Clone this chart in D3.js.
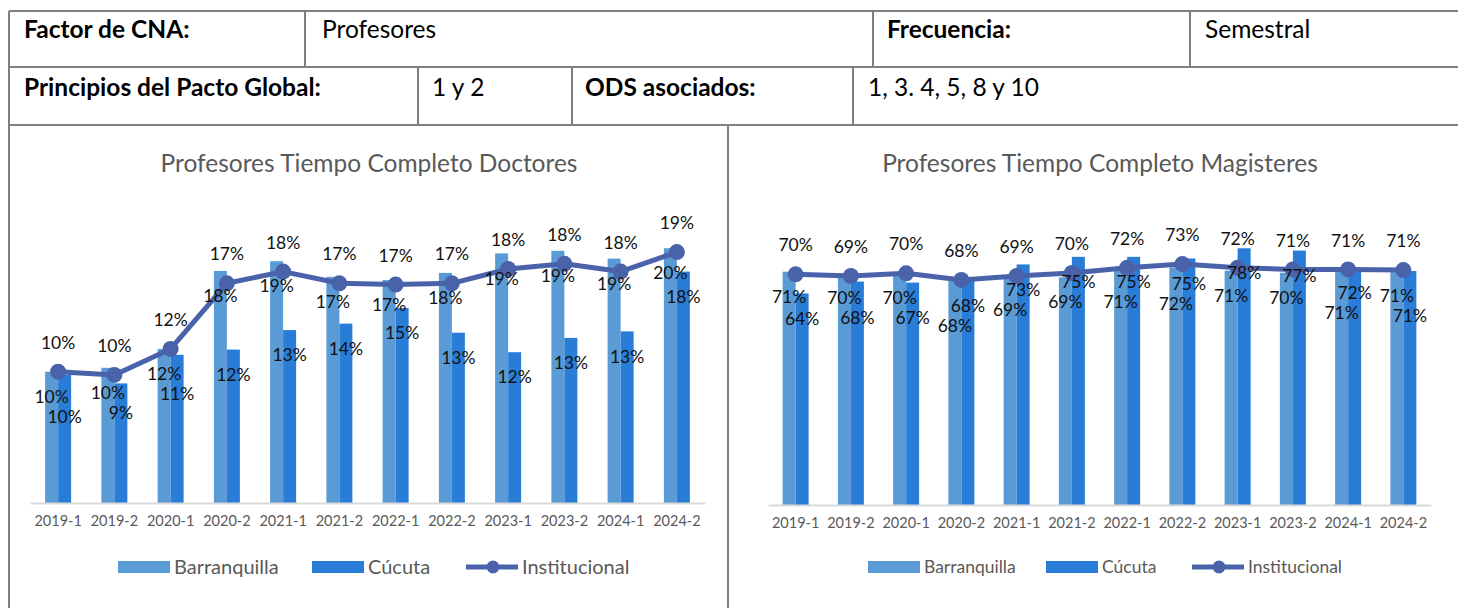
<!DOCTYPE html>
<html>
<head>
<meta charset="utf-8">
<script src="https://cdn.jsdelivr.net/npm/d3@7"></script>
<style>
  html, body { margin: 0; padding: 0; background: #fff; }
  svg { display: block; font-family: Lato, "Open Sans", sans-serif; }
</style>
</head>
<body>
<div id="chart"></div>
<script>
// Profesores tiempo completo - doctores y magisteres por sede

// Data
const periods = ['2019-1', '2019-2', '2020-1', '2020-2', '2021-1', '2021-2',
                 '2022-1', '2022-2', '2023-1', '2023-2', '2024-1', '2024-2'];

const docBarranquilla = [0.101, 0.104, 0.1185, 0.1785, 0.186, 0.174, 0.1715, 0.177, 0.192, 0.194, 0.188, 0.196];
const docCucuta = [0.0985, 0.092, 0.114, 0.118, 0.133, 0.138, 0.150, 0.131, 0.116, 0.127, 0.132, 0.178];
const docInstitucional = [0.101, 0.0985, 0.1185, 0.169, 0.178, 0.169, 0.168, 0.169, 0.180, 0.184, 0.178, 0.193];

const magBarranquilla = [0.707, 0.702, 0.702, 0.679, 0.690, 0.690, 0.710, 0.720, 0.710, 0.704, 0.710, 0.710];
const magCucuta = [0.641, 0.677, 0.674, 0.680, 0.729, 0.752, 0.752, 0.747, 0.778, 0.771, 0.720, 0.709];
const magInstitucional = [0.699, 0.694, 0.702, 0.682, 0.694, 0.703, 0.719, 0.730, 0.719, 0.714, 0.714, 0.712];

const seriesNames = ['Barranquilla', 'Cúcuta', 'Institucional'];

// header table texts
const headerRow1 = [
    { text: 'Factor de CNA:', bold: true },
    { text: 'Profesores', bold: false },
    { text: 'Frecuencia:', bold: true },
    { text: 'Semestral', bold: false }
];
const headerRow2 = [
    { text: 'Principios del Pacto Global:', bold: true },
    { text: '1 y 2', bold: false },
    { text: 'ODS asociados:', bold: true },
    { text: '1, 3. 4, 5, 8 y 10', bold: false }
];

// Configuration
const config = {
    width: 1458,
    height: 608,
    border: '#808080',
    colors: { barranquilla: '#5b9bd5', cucuta: '#2a7dd6', line: '#4a62aa' },
    textGray: '#595959'
};

const svg = d3.select('#chart')
    .append('svg')
    .attr('width', config.width)
    .attr('height', config.height);

// ---------- header table ----------
function drawTable() {
    const g = svg.append('g').attr('class', 'table');
    const top = 11, row1 = 67, row2 = 125, left = 9;

    const lines = [
        [left, top, config.width + 5, top],
        [left, row1, config.width + 5, row1],
        [left, row2, config.width + 5, row2],
        [left, top, left, config.height + 5],
        [305, top, 305, row1], [873, top, 873, row1], [1190, top, 1190, row1],
        [418, row1, 418, row2], [572, row1, 572, row2], [853, row1, 853, row2],
        [728, row2, 728, config.height + 5]
    ];
    g.selectAll('line')
        .data(lines)
        .enter().append('line')
        .attr('x1', d => d[0]).attr('y1', d => d[1])
        .attr('x2', d => d[2]).attr('y2', d => d[3])
        .attr('stroke', config.border)
        .attr('stroke-width', 2);

    const row1X = [24, 322, 887, 1205];
    const row2X = [24, 432, 585, 868];

    g.selectAll('.r1')
        .data(headerRow1)
        .enter().append('text')
        .attr('x', (d, i) => row1X[i])
        .attr('y', 38)
        .attr('font-size', 24.5)
        .attr('font-weight', d => d.bold ? 700 : 400)
        .attr('fill', '#000')
        .text(d => d.text);

    g.selectAll('.r2')
        .data(headerRow2)
        .enter().append('text')
        .attr('x', (d, i) => row2X[i])
        .attr('y', 96)
        .attr('font-size', 24.5)
        .attr('font-weight', d => d.bold ? 700 : 400)
        .attr('fill', '#000')
        .text(d => d.text);
}

// ---------- combo chart ----------
function drawChart(opts) {
    const g = svg.append('g');
    const pct = d3.format('.0%');

    const x = d3.scaleBand()
        .domain(periods)
        .range(opts.xRange);
    const bw = x.bandwidth();
    const xs = d3.scaleBand()
        .domain(['Barranquilla', 'Cúcuta'])
        .range([bw / 2 - 13, bw / 2 + 13]);

    const y = d3.scaleLinear()
        .domain(opts.yDomain)
        .range([opts.baseline, opts.top]);

    // title
    g.append('text')
        .attr('x', opts.titleX)
        .attr('y', 172)
        .attr('text-anchor', 'middle')
        .attr('font-size', 24.5)
        .attr('fill', config.textGray)
        .text(opts.title);

    const rows = periods.map((p, i) => ({
        period: p,
        b: opts.barranquilla[i],
        c: opts.cucuta[i],
        inst: opts.institucional[i]
    }));

    // bars
    g.selectAll('.bar-b')
        .data(rows)
        .enter().append('rect')
        .attr('x', d => x(d.period) + xs('Barranquilla'))
        .attr('y', d => y(d.b))
        .attr('width', xs.bandwidth())
        .attr('height', d => opts.baseline - y(d.b))
        .attr('fill', config.colors.barranquilla);

    g.selectAll('.bar-c')
        .data(rows)
        .enter().append('rect')
        .attr('x', d => x(d.period) + xs('Cúcuta'))
        .attr('y', d => y(d.c))
        .attr('width', xs.bandwidth())
        .attr('height', d => opts.baseline - y(d.c))
        .attr('fill', config.colors.cucuta);

    // x axis
    const axis = g.append('g')
        .attr('transform', `translate(0,${opts.baseline})`)
        .call(d3.axisBottom(x).tickSize(0).tickPadding(13));
    axis.select('.domain')
        .attr('stroke', '#d9d9d9')
        .attr('stroke-width', 2);
    axis.selectAll('text')
        .attr('font-family', 'Lato, sans-serif')
        .attr('font-size', 14.5)
        .attr('fill', config.textGray);

    // line
    const line = d3.line()
        .x(d => x(d.period) + bw / 2)
        .y(d => y(d.inst));
    g.append('path')
        .datum(rows)
        .attr('d', line)
        .attr('fill', 'none')
        .attr('stroke', config.colors.line)
        .attr('stroke-width', 5)
        .attr('stroke-linejoin', 'round');
    g.selectAll('.marker')
        .data(rows)
        .enter().append('circle')
        .attr('cx', d => x(d.period) + bw / 2)
        .attr('cy', d => y(d.inst))
        .attr('r', 8)
        .attr('fill', config.colors.line);

    // data labels: bars inside end, pushed apart when they collide
    const labels = [];
    rows.forEach(d => {
        let yb = y(d.b) + 25;
        let yc = y(d.c) + 25;
        if (Math.abs(yb - yc) < 16) {
            if (yc >= yb) yc = yb + 20; else yb = yc + 20;
        }
        labels.push({ x: x(d.period) + xs('Barranquilla') + xs.bandwidth() / 2, y: yb, v: d.b });
        labels.push({ x: x(d.period) + xs('Cúcuta') + xs.bandwidth() / 2, y: yc, v: d.c });
        labels.push({ x: x(d.period) + bw / 2, y: y(d.inst) - 29, v: d.inst });
    });

    g.selectAll('.lbl')
        .data(labels)
        .enter().append('text')
        .attr('x', d => d.x)
        .attr('y', d => d.y)
        .attr('dy', '0.35em')
        .attr('text-anchor', 'middle')
        .attr('font-size', 17.5)
        .attr('fill', '#111')
        .text(d => pct(d.v));

    // legend
    const lg = g.append('g').attr('transform', `translate(0,567)`);
    const lx = opts.legendX;
    lg.append('rect').attr('x', lx[0]).attr('y', -6).attr('width', 52).attr('height', 12)
        .attr('fill', config.colors.barranquilla);
    lg.append('rect').attr('x', lx[1]).attr('y', -6).attr('width', 52).attr('height', 12)
        .attr('fill', config.colors.cucuta);
    lg.append('line').attr('x1', lx[2]).attr('x2', lx[2] + 52).attr('y1', 0).attr('y2', 0)
        .attr('stroke', config.colors.line).attr('stroke-width', 5);
    lg.append('circle').attr('cx', lx[2] + 27).attr('cy', 0).attr('r', 6.5)
        .attr('fill', config.colors.line);
    lg.selectAll('.lt')
        .data(seriesNames)
        .enter().append('text')
        .attr('x', (d, i) => lx[i] + 56)
        .attr('y', 0)
        .attr('dy', '0.35em')
        .attr('font-size', opts.legendFont)
        .attr('fill', config.textGray)
        .text(d => d);
}

drawTable();

drawChart({
    title: 'Profesores Tiempo Completo Doctores',
    titleX: 369,
    xRange: [30, 705],
    yDomain: [0, 0.25],
    baseline: 503,
    top: 178,
    barranquilla: docBarranquilla,
    cucuta: docCucuta,
    institucional: docInstitucional,
    legendX: [118, 312, 466],
    legendFont: 20
});

drawChart({
    title: 'Profesores Tiempo Completo Magisteres',
    titleX: 1100,
    xRange: [768, 1431],
    yDomain: [0, 1],
    baseline: 505,
    top: 175,
    barranquilla: magBarranquilla,
    cucuta: magCucuta,
    institucional: magInstitucional,
    legendX: [868, 1046, 1192],
    legendFont: 17.5
});
</script>
</body>
</html>
